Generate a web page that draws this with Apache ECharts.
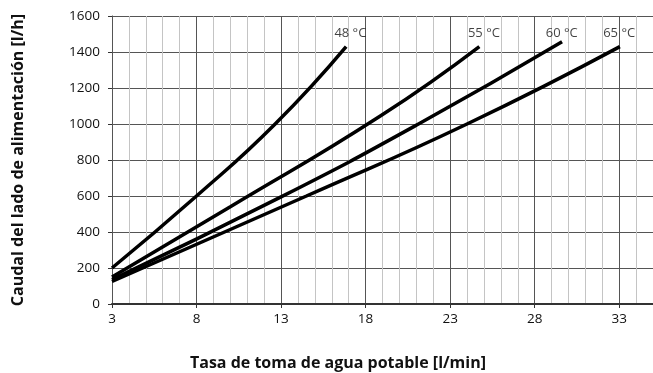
<!DOCTYPE html>
<html>
<head>
<meta charset="utf-8">
<script src="https://cdn.jsdelivr.net/npm/echarts@6/dist/echarts.min.js"></script>
<style>html,body{margin:0;padding:0;background:#fff}#c{width:653px;height:373px}</style>
</head>
<body>
<div id="c"></div>
<script>
// Data
const x48 = [3, 8, 12.65, 16.85];
const y48 = [200, 600, 1000, 1430];
const x55 = [3, 10, 18.87, 24.73];
const y55 = [150, 540, 1044, 1430];
const x60 = [3, 13, 21.13, 29.62];
const y60 = [135, 595, 1000, 1457];
const x65 = [3, 14.5, 24, 33.04];
const y65 = [125, 600, 1000, 1430];
const curveNames = ['48 °C', '55 °C', '60 °C', '65 °C'];
const labelX = [17.1, 25.0, 29.6, 33.0];
const labelY = [1505, 1505, 1505, 1505];
const xTitle = 'Tasa de toma de agua potable [l/min]';
const yTitle = 'Caudal del lado de alimentación [l/h]';

const FONT = 'Open Sans';
const pairs = (xs, ys) => xs.map((x, i) => [x, ys[i]]);
const curves = [pairs(x48, y48), pairs(x55, y55), pairs(x60, y60), pairs(x65, y65)];

const chart = echarts.init(document.getElementById('c'), null, {renderer: 'canvas'});
chart.setOption({
  animation: false,
  backgroundColor: '#fff',
  grid: {left: 112, right: 0, top: 16, bottom: 69, containLabel: false},
  xAxis: [{
    type: 'value', min: 3, max: 35, interval: 5, z: 2,
    axisLine: {show: true, onZero: false, lineStyle: {color: '#333', width: 2}},
    axisTick: {show: true, inside: false, length: 4, lineStyle: {color: '#333'}},
    axisLabel: {show: true, showMaxLabel: false, margin: 8, color: '#111', fontFamily: FONT, fontSize: 13.5,
      formatter: v => String(v)},
    splitLine: {show: true, lineStyle: {color: '#555', width: 1}}
  }, {
    type: 'value', min: 3, max: 35, interval: 1, z: 1,
    axisLine: {show: false}, axisTick: {show: false}, axisLabel: {show: false},
    splitLine: {show: true, lineStyle: {color: '#c4c4c4', width: 1}}
  }],
  yAxis: {
    type: 'value', min: 0, max: 1600, interval: 200,
    name: yTitle, nameLocation: 'middle', nameGap: 86,
    nameTextStyle: {fontFamily: FONT, fontSize: 16, fontWeight: 'bold', color: '#111'},
    axisLine: {show: true, lineStyle: {color: '#333', width: 1}},
    axisTick: {show: true, inside: false, length: 4, lineStyle: {color: '#333'}},
    axisLabel: {show: true, margin: 12, color: '#111', fontFamily: FONT, fontSize: 13.5,
      formatter: v => String(v)},
    splitLine: {show: true, lineStyle: {color: '#555', width: 1}}
  },
  graphic: [{
    type: 'text', x: 338, y: 363, z: 10,
    style: {text: xTitle, font: 'bold 16px "' + FONT + '"', fill: '#111', align: 'center', verticalAlign: 'middle'}
  }],
  series: curves.map((d, i) => ({
    type: 'line', name: curveNames[i], data: d, xAxisIndex: 0,
    showSymbol: false, smooth: 0.5, z: 5,
    lineStyle: {color: '#000', width: 3.5}
  })).concat([{
    type: 'scatter', xAxisIndex: 0, symbolSize: 0, silent: true, z: 6,
    data: curveNames.map((n, i) => ({name: n, value: [labelX[i], labelY[i]]})),
    label: {show: true, position: 'inside', formatter: p => p.name, color: '#111', fontFamily: FONT, fontSize: 13}
  }])
});
</script>
</body>
</html>
